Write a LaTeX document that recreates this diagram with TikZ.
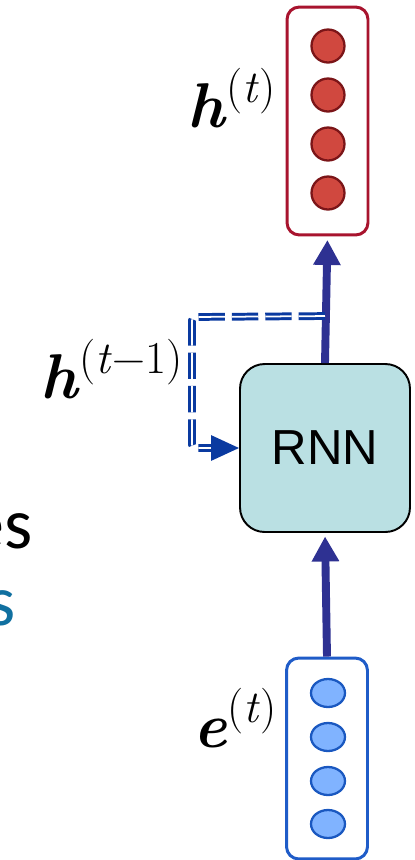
\documentclass[tikz,border=0pt]{standalone}
\usepackage{fontspec}
\setsansfont{Liberation Sans}
\newfontfamily\slidefont{Carlito}
\usetikzlibrary{arrows.meta,calc,shapes.geometric}

% bold vector with its time index raised after it
\newcommand{\stepvec}[2]{\textbf{\textit{#1}}\raisebox{14pt}{\fontsize{26}{28}\selectfont(#2)}}

\definecolor{hframe}{HTML}{A8142E}
\definecolor{hfill}{HTML}{D0483F}
\definecolor{hedge}{HTML}{7B1518}
\definecolor{eframe}{HTML}{1F5CC8}
\definecolor{efill}{HTML}{80B3FF}
\definecolor{eedge}{HTML}{1A58C0}
\definecolor{cellfill}{HTML}{BAE0E3}
\definecolor{flow}{HTML}{2E3192}
\definecolor{recurblue}{HTML}{0A3AA0}
\definecolor{slideteal}{HTML}{1070A0}

\tikzset{
	vecbox/.style={draw, line width=1.7pt, rounded corners=7pt, minimum width=1.62cm, inner sep=0pt},
	hunit/.style={circle, draw=hedge, fill=hfill, line width=1.3pt, minimum size=0.66cm, inner sep=0pt},
	eunit/.style={ellipse, draw=eedge, fill=efill, line width=1.3pt, minimum width=0.68cm, minimum height=0.56cm, inner sep=0pt},
	cell/.style={draw, fill=cellfill, line width=1.1pt, rounded corners=14pt, minimum width=3.4cm, minimum height=3.36cm, font=\sffamily\fontsize{28}{32}\selectfont},
	flowarrow/.style={draw=flow, line width=4.5pt, -{Triangle[length=0.5cm, width=0.52cm]}, shorten >=2pt},
	recur/.style={draw=recurblue, line width=1.7pt, double, double distance=1pt, dash pattern=on 15pt off 4pt, rounded corners=2pt, -{Triangle[length=0.56cm, width=0.5cm]}},
	veclabel/.style={anchor=base east, inner sep=0pt, font=\fontsize{36}{40}\selectfont},
	cuttext/.style={anchor=base east, inner sep=0pt, font=\slidefont\fontsize{41}{46}\selectfont}
}

\begin{document}
\begin{tikzpicture}[x=0.02cm, y=-0.02cm]
		%%%%% START %%%%%
		\clip (0,0) rectangle (414,860);
		
		% output vector
		\node[vecbox, draw=hframe, minimum height=4.56cm] (hvec) at (327.5,121) {};
		\foreach \y [count=\i] in {46,95,144,193}
			\node[hunit] (h\i) at (328,\y) {};
		\node[veclabel] (hlab) at (276,127) {\stepvec{h}{\textit{t}}};
		
		% the cell
		\node[cell] (rnn) at (325,448) {RNN};
		
		% input vector
		\node[vecbox, draw=eframe, minimum height=4.02cm] (evec) at (327,758.5) {};
		\foreach \y [count=\i] in {693,737,781,824}
			\node[eunit] (e\i) at (328,\y) {};
		\node[veclabel] (elab) at (277,747) {\stepvec{e}{\textit{t}}};
		
		\draw[flowarrow] (evec.north) -- (rnn.south);
		\draw[flowarrow] (rnn.north) -- (hvec.south);
		
		% hidden state fed back in
		\coordinate (split) at ($(rnn.north)+(0,-47)$);
		\coordinate (bend) at (192,317);
		\draw[recur] (split) -- (bend) |- (rnn.west);
		\node[veclabel] (hprevlab) at (183,398) {\stepvec{h}{\textit{t}−1}};
		
		% slide text running off the edge
		\node[cuttext] (cut1) at (33,548) {es};
		\node[cuttext, text=slideteal] (cut2) at (16,625) {s};
		%%%%% END %%%%%
	\end{tikzpicture}
\end{document}
